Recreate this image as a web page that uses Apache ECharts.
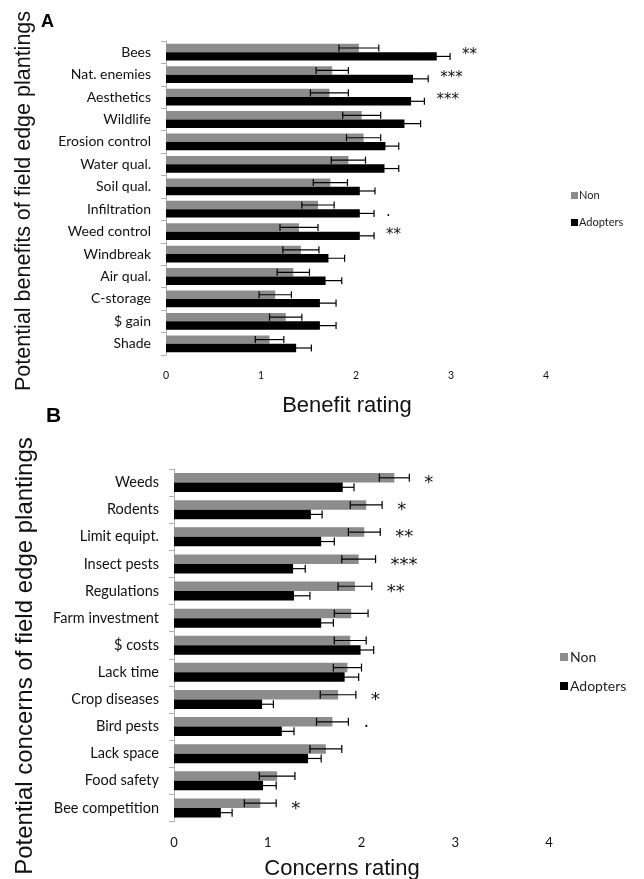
<!DOCTYPE html>
<html>
<head>
<meta charset="utf-8">
<script src="https://cdn.jsdelivr.net/npm/echarts/dist/echarts.min.js"></script>
<style>
html,body{margin:0;padding:0;background:#fff;}
#chart{width:644px;height:879px;}
</style>
</head>
<body>
<div id="chart"></div>
<script>
// ---------- Panel A: benefits ----------
const catsA = ['Bees','Nat. enemies','Aesthetics','Wildlife','Erosion control','Water qual.','Soil qual.','Infiltration','Weed control','Windbreak','Air qual.','C-storage','$ gain','Shade'];
const nonA     = [2.03,1.75,1.72,2.06,2.08,1.92,1.73,1.60,1.40,1.42,1.34,1.15,1.26,1.09];
const nonAErr  = [0.21,0.17,0.20,0.20,0.18,0.18,0.18,0.17,0.20,0.19,0.17,0.17,0.17,0.15];
const adoptA   = [2.85,2.60,2.58,2.51,2.31,2.30,2.04,2.04,2.04,1.71,1.68,1.62,1.62,1.37];
const adoptAErr= [0.14,0.16,0.14,0.17,0.14,0.15,0.16,0.15,0.15,0.17,0.17,0.17,0.17,0.16];
const sigA     = ['**','***','***','','','','','.','**','','','','',''];

// ---------- Panel B: concerns ----------
const catsB = ['Weeds','Rodents','Limit equipt.','Insect pests','Regulations','Farm investment','$ costs','Lack time','Crop diseases','Bird pests','Lack space','Food safety','Bee competition'];
const nonB     = [2.35,2.05,2.03,1.97,1.93,1.89,1.88,1.85,1.75,1.69,1.62,1.10,0.92];
const nonBErr  = [0.16,0.17,0.17,0.18,0.18,0.18,0.17,0.15,0.19,0.17,0.17,0.19,0.17];
const adoptB   = [1.80,1.46,1.57,1.27,1.28,1.57,1.99,1.82,0.94,1.15,1.43,0.95,0.50];
const adoptBErr= [0.12,0.12,0.14,0.13,0.17,0.13,0.14,0.15,0.12,0.13,0.14,0.14,0.12];
const sigB     = ['*','*','**','***','**','','','','*','·','','','*'];

const xTicks = [0,1,2,3,4];

const GRAY = '#8c8c8c', BLACK = '#000000';
const FONT = 'Lato, "Open Sans", sans-serif';
const ARIAL = '"Liberation Sans", Arial, sans-serif';
const STARFONT = '"DejaVu Sans", sans-serif';

const chart = echarts.init(document.getElementById('chart'), null, {renderer:'canvas'});

function errSeries(grid, vals, errs, barW, sign) {
  return {
    type:'custom', xAxisIndex:grid, yAxisIndex:grid, silent:true, z:5,
    data: vals.map((v,i)=>[v, errs[i], i]),
    encode:{x:0, y:2},
    renderItem:function(params, api){
      const v = api.value(0), e = api.value(1), idx = api.value(2);
      const p1 = api.coord([v - e, idx]);
      const p2 = api.coord([v + e, idx]);
      const y = p1[1] + sign * barW / 2;
      const h = barW * 0.42;
      const st = {stroke:'#000', lineWidth:1.2};
      return {type:'group', children:[
        {type:'line', shape:{x1:p1[0], y1:y, x2:p2[0], y2:y}, style:st},
        {type:'line', shape:{x1:p1[0], y1:y-h, x2:p1[0], y2:y+h}, style:st},
        {type:'line', shape:{x1:p2[0], y1:y-h, x2:p2[0], y2:y+h}, style:st}
      ]};
    }
  };
}

function sigSeries(grid, nv, ne, av, ae, labels, gap, fs, dy) {
  return {
    type:'custom', xAxisIndex:grid, yAxisIndex:grid, silent:true, z:6, clip:false,
    data: nv.map((v,i)=>[Math.max(v+ne[i], av[i]+ae[i]), i]),
    encode:{x:0, y:1},
    renderItem:function(params, api){
      const txt = labels[params.dataIndex];
      if (!txt) return null;
      const p = api.coord([api.value(0), api.value(1)]);
      return {type:'text', x:p[0] + gap, y:p[1] + dy,
        style:{text:txt, fill:'#111', font: fs + 'px ' + STARFONT,
               align:'left', verticalAlign:'middle', textAlign:'left', textVerticalAlign:'middle'}};
    }
  };
}

const BWA = 8.4, BWB = 9.5;

const option = {
  animation:false,
  backgroundColor:'#fff',
  grid:[
    {left:166, top:41, width:380, height:314},
    {left:174, top:469, width:375, height:352.5}
  ],
  xAxis:[
    {gridIndex:0, type:'value', min:0, max:4, interval:1,
     axisLine:{show:false}, axisTick:{show:false}, splitLine:{show:false},
     axisLabel:{fontSize:10.5, color:'#111', fontFamily:FONT, margin:15,
       formatter:(v)=> xTicks.indexOf(v) >= 0 ? String(v) : ''}},
    {gridIndex:1, type:'value', min:0, max:4, interval:1,
     axisLine:{show:false}, axisTick:{show:false}, splitLine:{show:false},
     axisLabel:{fontSize:13, color:'#111', fontFamily:FONT, margin:15,
       formatter:(v)=> xTicks.indexOf(v) >= 0 ? String(v) : ''}}
  ],
  yAxis:[
    {gridIndex:0, type:'category', data:catsA, inverse:true,
     axisLine:{show:true, lineStyle:{color:'#b0b0b0', width:1}},
     axisTick:{show:true, length:5, lineStyle:{color:'#b0b0b0'}},
     axisLabel:{fontSize:14, color:'#111', fontFamily:FONT, margin:15}},
    {gridIndex:1, type:'category', data:catsB, inverse:true,
     axisLine:{show:true, lineStyle:{color:'#b0b0b0', width:1}},
     axisTick:{show:true, length:5, lineStyle:{color:'#b0b0b0'}},
     axisLabel:{fontSize:14.5, color:'#111', fontFamily:FONT, margin:15}}
  ],
  legend:[
    {data:['Non','Adopters'], orient:'vertical', left:566, top:185,
     itemWidth:7, itemHeight:7, itemGap:16, icon:'rect',
     textStyle:{fontSize:11, color:'#222', fontFamily:FONT, padding:[0,0,0,-4]}},
    {data:['Non','Adopters'], orient:'vertical', left:555, top:645,
     itemWidth:8, itemHeight:8, itemGap:15, icon:'rect',
     textStyle:{fontSize:14, color:'#222', fontFamily:FONT, padding:[0,0,0,-3]}}
  ],
  series:[
    {name:'Non', type:'bar', xAxisIndex:0, yAxisIndex:0, data:nonA, barWidth:BWA, barGap:'0%',
     itemStyle:{color:GRAY}},
    {name:'Adopters', type:'bar', xAxisIndex:0, yAxisIndex:0, data:adoptA, barWidth:BWA, barGap:'0%',
     itemStyle:{color:BLACK}},
    {name:'Non', type:'bar', xAxisIndex:1, yAxisIndex:1, data:nonB, barWidth:BWB, barGap:'0%',
     itemStyle:{color:GRAY}},
    {name:'Adopters', type:'bar', xAxisIndex:1, yAxisIndex:1, data:adoptB, barWidth:BWB, barGap:'0%',
     itemStyle:{color:BLACK}},
    errSeries(0, nonA, nonAErr, BWA, -1),
    errSeries(0, adoptA, adoptAErr, BWA, 1),
    errSeries(1, nonB, nonBErr, BWB, -1),
    errSeries(1, adoptB, adoptBErr, BWB, 1),
    sigSeries(0, nonA, nonAErr, adoptA, adoptAErr, sigA, 12, 15, 3),
    sigSeries(1, nonB, nonBErr, adoptB, adoptBErr, sigB, 15, 18, 1)
  ],
  graphic:[
    {type:'text', left:41, top:13, style:{text:'A', font:'bold 18px ' + ARIAL, fill:'#000'}},
    {type:'text', left:46, top:406, style:{text:'B', font:'bold 21px ' + ARIAL, fill:'#000'}},
    {type:'text', x:24, y:201, rotation:Math.PI/2,
     style:{text:'Potential benefits of field edge plantings', font:'21.5px ' + ARIAL, fill:'#111',
            align:'center', verticalAlign:'middle', textAlign:'center', textVerticalAlign:'middle'}},
    {type:'text', x:25, y:656, rotation:Math.PI/2,
     style:{text:'Potential concerns of field edge plantings', font:'24px ' + ARIAL, fill:'#111',
            align:'center', verticalAlign:'middle', textAlign:'center', textVerticalAlign:'middle'}},
    {type:'text', x:347, y:406,
     style:{text:'Benefit rating', font:'22px ' + ARIAL, fill:'#111',
            align:'center', verticalAlign:'middle', textAlign:'center', textVerticalAlign:'middle'}},
    {type:'text', x:342, y:869,
     style:{text:'Concerns rating', font:'22px ' + ARIAL, fill:'#111',
            align:'center', verticalAlign:'middle', textAlign:'center', textVerticalAlign:'middle'}}
  ]
};
chart.setOption(option);
</script>
</body>
</html>
